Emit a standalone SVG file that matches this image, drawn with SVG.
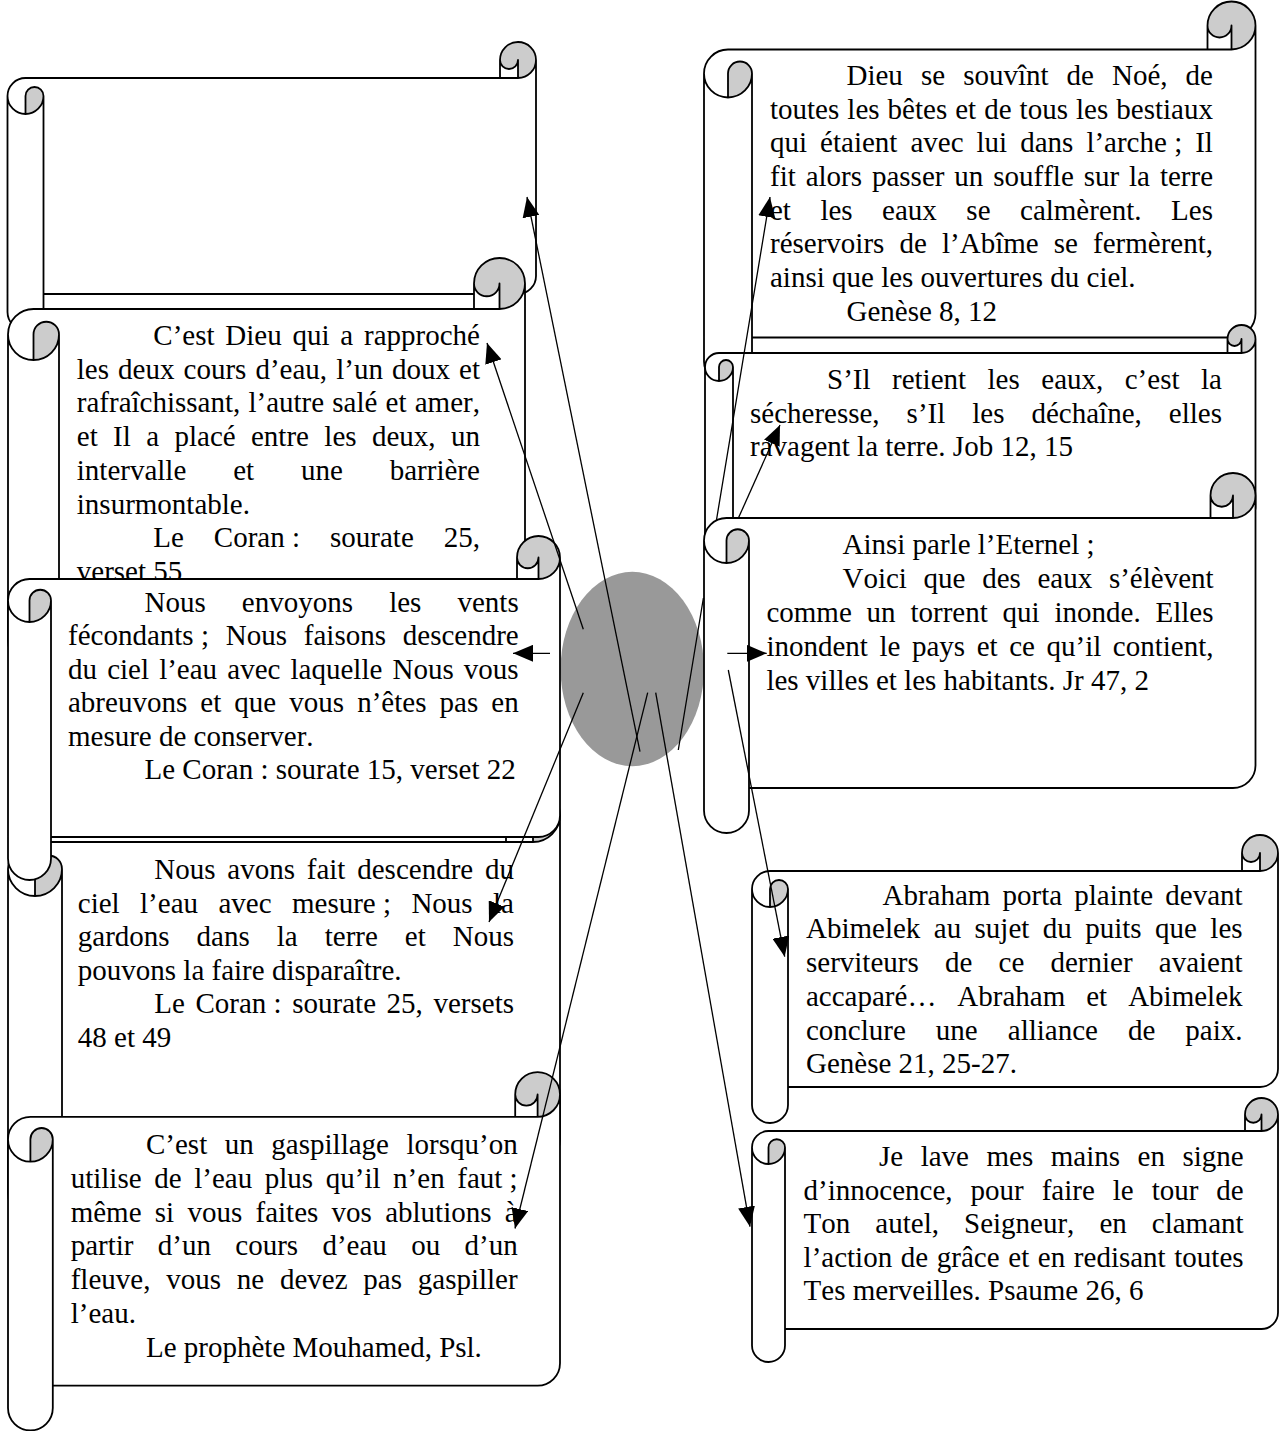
<svg xmlns="http://www.w3.org/2000/svg" width="1279" height="1431" viewBox="0 0 1279 1431">
<defs>
<style>
.bg{fill:#ffffff;stroke:none}
.gr{fill:#cccccc;stroke:none}
.ol{fill:none;stroke:#000;stroke-width:1.8;stroke-linejoin:round}
.t{font-family:"Liberation Serif","Times New Roman",serif;font-size:29px;fill:#000;font-kerning:none;font-variant-ligatures:none}
.cn{fill:none;stroke:#000;stroke-width:1.3;marker-end:url(#ah)}
</style>
<marker id="ah" markerUnits="userSpaceOnUse" markerWidth="20" markerHeight="17" viewBox="0 0 20 17" refX="20" refY="8.5" orient="auto"><path d="M0,0 L20,8.5 L0,17 z" fill="#000"/></marker>
</defs>
<rect x="0" y="0" width="1279" height="1431" fill="#ffffff"/>

<g id="centre">
<ellipse cx="632.3" cy="669" rx="71.7" ry="97.2" fill="#999999"/>
</g>

<g id="scroll-empty">
<path class="bg" d="M536,60 a18,18 0 0 1 -18,18 v-18 a9,9 0 0 1 -18,0 v18 h-474.5 a18,18 0 0 0 -18,18 v216 a18,18 0 0 0 36,0 v-18 h474.5 a18,18 0 0 0 18,-18 z"/>
<path class="gr" d="M25.5,114 a18,18 0 0 0 18,-18 a9,9 0 0 0 -18,0 z"/>
<path class="gr" d="M518,78 a18,18 0 1 0 -18,-18 a9,9 0 0 0 18,0 z"/>
<path class="ol" d="M7.5,96 a18,18 0 0 1 18,-18 h474.5 v-18 a18,18 0 0 1 36,0 v216 a18,18 0 0 1 -18,18 h-474.5 v18 a18,18 0 0 1 -36,0 z M500,78 h18 a18,18 0 0 0 18,-18 M518,78 v-18 a9,9 0 0 1 -18,0 M25.5,114 v-18 a9,9 0 0 1 18,0 a18,18 0 0 1 -36,0 M43.5,96 V294"/>
</g>

<g id="scroll-coran-25-55">
<path class="bg" d="M525,283.5 a25.5,25.5 0 0 1 -25.5,25.5 v-25.5 a12.75,12.75 0 0 1 -25.5,0 v25.5 h-440.5 a25.5,25.5 0 0 0 -25.5,25.5 v306 a25.5,25.5 0 0 0 51,0 v-25.5 h440.5 a25.5,25.5 0 0 0 25.5,-25.5 z"/>
<path class="gr" d="M33.5,360 a25.5,25.5 0 0 0 25.5,-25.5 a12.75,12.75 0 0 0 -25.5,0 z"/>
<path class="gr" d="M499.5,309 a25.5,25.5 0 1 0 -25.5,-25.5 a12.75,12.75 0 0 0 25.5,0 z"/>
<path class="ol" d="M8,334.5 a25.5,25.5 0 0 1 25.5,-25.5 h440.5 v-25.5 a25.5,25.5 0 0 1 51,0 v306 a25.5,25.5 0 0 1 -25.5,25.5 h-440.5 v25.5 a25.5,25.5 0 0 1 -51,0 z M474,309 h25.5 a25.5,25.5 0 0 0 25.5,-25.5 M499.5,309 v-25.5 a12.75,12.75 0 0 1 -25.5,0 M33.5,360 v-25.5 a12.75,12.75 0 0 1 25.5,0 a25.5,25.5 0 0 1 -51,0 M59,334.5 V615"/>
<text class="t" x="153.3" y="345" word-spacing="3.55">C’est Dieu qui a rapproché</text>
<text class="t" x="76.8" y="378.7" word-spacing="1.83">les deux cours d’eau, l’un doux et</text>
<text class="t" x="76.8" y="412.4" word-spacing="0.95">rafraîchissant, l’autre salé et amer,</text>
<text class="t" x="76.8" y="446.1" word-spacing="8.13">et Il a placé entre les deux, un</text>
<text class="t" x="76.8" y="479.8" word-spacing="39.63">intervalle et une barrière</text>
<text class="t" x="76.8" y="513.5">insurmontable.</text>
<text class="t" x="153.3" y="547.2" word-spacing="22.73">Le Coran<tspan word-spacing="0"> :</tspan> sourate 25,</text>
<text class="t" x="76.8" y="580.9">verset 55</text>
</g>

<g id="scroll-coran-25-48">
<path class="bg" d="M560,815 a27,27 0 0 1 -27,27 v-27 a13.5,13.5 0 0 1 -27,0 v27 h-471 a27,27 0 0 0 -27,27 v324 a27,27 0 0 0 54,0 v-27 h471 a27,27 0 0 0 27,-27 z"/>
<path class="gr" d="M35,896 a27,27 0 0 0 27,-27 a13.5,13.5 0 0 0 -27,0 z"/>
<path class="gr" d="M533,842 a27,27 0 1 0 -27,-27 a13.5,13.5 0 0 0 27,0 z"/>
<path class="ol" d="M8,869 a27,27 0 0 1 27,-27 h471 v-27 a27,27 0 0 1 54,0 v324 a27,27 0 0 1 -27,27 h-471 v27 a27,27 0 0 1 -54,0 z M506,842 h27 a27,27 0 0 0 27,-27 M533,842 v-27 a13.5,13.5 0 0 1 -27,0 M35,896 v-27 a13.5,13.5 0 0 1 27,0 a27,27 0 0 1 -54,0 M62,869 V1166"/>
<text class="t" x="154.3" y="879.3" word-spacing="4.55">Nous avons fait descendre du</text>
<text class="t" x="77.8" y="912.8" word-spacing="13.16">ciel l’eau avec mesure<tspan word-spacing="0"> ;</tspan> Nous la</text>
<text class="t" x="77.8" y="946.3" word-spacing="19.76">gardons dans la terre et Nous</text>
<text class="t" x="77.8" y="979.8">pouvons la faire disparaître.</text>
<text class="t" x="154.3" y="1013.3" word-spacing="3.35">Le Coran<tspan word-spacing="0"> :</tspan> sourate 25, versets</text>
<text class="t" x="77.8" y="1046.8">48 et 49</text>
</g>

<g id="scroll-coran-15-22">
<path class="bg" d="M560,557.5 a21.5,21.5 0 0 1 -21.5,21.5 v-21.5 a10.75,10.75 0 0 1 -21.5,0 v21.5 h-487.5 a21.5,21.5 0 0 0 -21.5,21.5 v258 a21.5,21.5 0 0 0 43,0 v-21.5 h487.5 a21.5,21.5 0 0 0 21.5,-21.5 z"/>
<path class="gr" d="M29.5,622 a21.5,21.5 0 0 0 21.5,-21.5 a10.75,10.75 0 0 0 -21.5,0 z"/>
<path class="gr" d="M538.5,579 a21.5,21.5 0 1 0 -21.5,-21.5 a10.75,10.75 0 0 0 21.5,0 z"/>
<path class="ol" d="M8,600.5 a21.5,21.5 0 0 1 21.5,-21.5 h487.5 v-21.5 a21.5,21.5 0 0 1 43,0 v258 a21.5,21.5 0 0 1 -21.5,21.5 h-487.5 v21.5 a21.5,21.5 0 0 1 -43,0 z M517,579 h21.5 a21.5,21.5 0 0 0 21.5,-21.5 M538.5,579 v-21.5 a10.75,10.75 0 0 1 -21.5,0 M29.5,622 v-21.5 a10.75,10.75 0 0 1 21.5,0 a21.5,21.5 0 0 1 -43,0 M51,600.5 V837"/>
<text class="t" x="144.5" y="611.7" word-spacing="28.87">Nous envoyons les vents</text>
<text class="t" x="68" y="645.2" word-spacing="9.57">fécondants<tspan word-spacing="0"> ;</tspan> Nous faisons descendre</text>
<text class="t" x="68" y="678.7" word-spacing="2.9">du ciel l’eau avec laquelle Nous vous</text>
<text class="t" x="68" y="712.2" word-spacing="5.85">abreuvons et que vous n’êtes pas en</text>
<text class="t" x="68" y="745.7">mesure de conserver.</text>
<text class="t" x="144.5" y="779.2">Le Coran : sourate 15, verset 22</text>
</g>

<g id="scroll-prophete">
<path class="bg" d="M560,1094.4 a22.4,22.4 0 0 1 -22.4,22.4 v-22.4 a11.2,11.2 0 0 1 -22.4,0 v22.4 h-484.8 a22.4,22.4 0 0 0 -22.4,22.4 v268.8 a22.4,22.4 0 0 0 44.8,0 v-22.4 h484.8 a22.4,22.4 0 0 0 22.4,-22.4 z"/>
<path class="gr" d="M30.4,1161.6 a22.4,22.4 0 0 0 22.4,-22.4 a11.2,11.2 0 0 0 -22.4,0 z"/>
<path class="gr" d="M537.6,1116.8 a22.4,22.4 0 1 0 -22.4,-22.4 a11.2,11.2 0 0 0 22.4,0 z"/>
<path class="ol" d="M8,1139.2 a22.4,22.4 0 0 1 22.4,-22.4 h484.8 v-22.4 a22.4,22.4 0 0 1 44.8,0 v268.8 a22.4,22.4 0 0 1 -22.4,22.4 h-484.8 v22.4 a22.4,22.4 0 0 1 -44.8,0 z M515.2,1116.8 h22.4 a22.4,22.4 0 0 0 22.4,-22.4 M537.6,1116.8 v-22.4 a11.2,11.2 0 0 1 -22.4,0 M30.4,1161.6 v-22.4 a11.2,11.2 0 0 1 22.4,0 a22.4,22.4 0 0 1 -44.8,0 M52.8,1139.2 V1385.6"/>
<text class="t" x="146" y="1154" word-spacing="10.33">C’est un gaspillage lorsqu’on</text>
<text class="t" x="70.7" y="1187.8" word-spacing="5.37">utilise de l’eau plus qu’il n’en faut<tspan word-spacing="0"> ;</tspan></text>
<text class="t" x="70.7" y="1221.6" word-spacing="6.03">même si vous faites vos ablutions à</text>
<text class="t" x="70.7" y="1255.4" word-spacing="17.08">partir d’un cours d’eau ou d’un</text>
<text class="t" x="70.7" y="1289.2" word-spacing="8.54">fleuve, vous ne devez pas gaspiller</text>
<text class="t" x="70.7" y="1323">l’eau.</text>
<text class="t" x="146" y="1356.8">Le prophète Mouhamed, Psl.</text>
</g>

<g id="scroll-genese-8">
<path class="bg" d="M1255.5,25.5 a24,24 0 0 1 -24,24 v-24 a12,12 0 0 1 -24,0 v24 h-479.5 a24,24 0 0 0 -24,24 v288 a24,24 0 0 0 48,0 v-24 h479.5 a24,24 0 0 0 24,-24 z"/>
<path class="gr" d="M728,97.5 a24,24 0 0 0 24,-24 a12,12 0 0 0 -24,0 z"/>
<path class="gr" d="M1231.5,49.5 a24,24 0 1 0 -24,-24 a12,12 0 0 0 24,0 z"/>
<path class="ol" d="M704,73.5 a24,24 0 0 1 24,-24 h479.5 v-24 a24,24 0 0 1 48,0 v288 a24,24 0 0 1 -24,24 h-479.5 v24 a24,24 0 0 1 -48,0 z M1207.5,49.5 h24 a24,24 0 0 0 24,-24 M1231.5,49.5 v-24 a12,12 0 0 1 -24,0 M728,97.5 v-24 a12,12 0 0 1 24,0 a24,24 0 0 1 -48,0 M752,73.5 V337.5"/>
<text class="t" x="846.5" y="85" word-spacing="10.8">Dieu se souvînt de Noé, de</text>
<text class="t" x="770" y="118.65" word-spacing="0.8">toutes les bêtes et de tous les bestiaux</text>
<text class="t" x="770" y="152.3" word-spacing="5.78">qui étaient avec lui dans l’arche<tspan word-spacing="0"> ;</tspan> Il</text>
<text class="t" x="770" y="185.95" word-spacing="2.66">fit alors passer un souffle sur la terre</text>
<text class="t" x="770" y="219.6" word-spacing="22.24">et les eaux se calmèrent. Les</text>
<text class="t" x="770" y="253.25" word-spacing="7.88">réservoirs de l’Abîme se fermèrent,</text>
<text class="t" x="770" y="286.9">ainsi que les ouvertures du ciel.</text>
<text class="t" x="846.5" y="320.55">Genèse 8, 12</text>
</g>

<g id="scroll-job">
<path class="bg" d="M1255.5,339 a14,14 0 0 1 -14,14 v-14 a7,7 0 0 1 -14,0 v14 h-508.5 a14,14 0 0 0 -14,14 v168 a14,14 0 0 0 28,0 v-14 h508.5 a14,14 0 0 0 14,-14 z"/>
<path class="gr" d="M719,381 a14,14 0 0 0 14,-14 a7,7 0 0 0 -14,0 z"/>
<path class="gr" d="M1241.5,353 a14,14 0 1 0 -14,-14 a7,7 0 0 0 14,0 z"/>
<path class="ol" d="M705,367 a14,14 0 0 1 14,-14 h508.5 v-14 a14,14 0 0 1 28,0 v168 a14,14 0 0 1 -14,14 h-508.5 v14 a14,14 0 0 1 -28,0 z M1227.5,353 h14 a14,14 0 0 0 14,-14 M1241.5,353 v-14 a7,7 0 0 1 -14,0 M719,381 v-14 a7,7 0 0 1 14,0 a14,14 0 0 1 -28,0 M733,367 V521"/>
<text class="t" x="827" y="389" word-spacing="14.24">S’Il retient les eaux, c’est la</text>
<text class="t" x="750" y="422.5" word-spacing="19.75">sécheresse, s’Il les déchaîne, elles</text>
<text class="t" x="750" y="456">ravagent la terre. Job 12, 15</text>
</g>

<g id="scroll-jeremie">
<path class="bg" d="M1255.5,495.5 a22.5,22.5 0 0 1 -22.5,22.5 v-22.5 a11.25,11.25 0 0 1 -22.5,0 v22.5 h-484 a22.5,22.5 0 0 0 -22.5,22.5 v270 a22.5,22.5 0 0 0 45,0 v-22.5 h484 a22.5,22.5 0 0 0 22.5,-22.5 z"/>
<path class="gr" d="M726.5,563 a22.5,22.5 0 0 0 22.5,-22.5 a11.25,11.25 0 0 0 -22.5,0 z"/>
<path class="gr" d="M1233,518 a22.5,22.5 0 1 0 -22.5,-22.5 a11.25,11.25 0 0 0 22.5,0 z"/>
<path class="ol" d="M704,540.5 a22.5,22.5 0 0 1 22.5,-22.5 h484 v-22.5 a22.5,22.5 0 0 1 45,0 v270 a22.5,22.5 0 0 1 -22.5,22.5 h-484 v22.5 a22.5,22.5 0 0 1 -45,0 z M1210.5,518 h22.5 a22.5,22.5 0 0 0 22.5,-22.5 M1233,518 v-22.5 a11.25,11.25 0 0 1 -22.5,0 M726.5,563 v-22.5 a11.25,11.25 0 0 1 22.5,0 a22.5,22.5 0 0 1 -45,0 M749,540.5 V788"/>
<text class="t" x="842.5" y="554">Ainsi parle l’Eternel ;</text>
<text class="t" x="842.5" y="587.9" word-spacing="9.43">Voici que des eaux s’élèvent</text>
<text class="t" x="766.4" y="621.8" word-spacing="7.6">comme un torrent qui inonde. Elles</text>
<text class="t" x="766.4" y="655.7" word-spacing="4.32">inondent le pays et ce qu’il contient,</text>
<text class="t" x="766.4" y="689.6">les villes et les habitants. Jr 47, 2</text>
</g>

<g id="scroll-genese-21">
<path class="bg" d="M1278,853 a18,18 0 0 1 -18,18 v-18 a9,9 0 0 1 -18,0 v18 h-472 a18,18 0 0 0 -18,18 v216 a18,18 0 0 0 36,0 v-18 h472 a18,18 0 0 0 18,-18 z"/>
<path class="gr" d="M770,907 a18,18 0 0 0 18,-18 a9,9 0 0 0 -18,0 z"/>
<path class="gr" d="M1260,871 a18,18 0 1 0 -18,-18 a9,9 0 0 0 18,0 z"/>
<path class="ol" d="M752,889 a18,18 0 0 1 18,-18 h472 v-18 a18,18 0 0 1 36,0 v216 a18,18 0 0 1 -18,18 h-472 v18 a18,18 0 0 1 -36,0 z M1242,871 h18 a18,18 0 0 0 18,-18 M1260,871 v-18 a9,9 0 0 1 -18,0 M770,907 v-18 a9,9 0 0 1 18,0 a18,18 0 0 1 -36,0 M788,889 V1087"/>
<text class="t" x="882.5" y="904.5" word-spacing="4.87">Abraham porta plainte devant</text>
<text class="t" x="806" y="938.25" word-spacing="6.18">Abimelek au sujet du puits que les</text>
<text class="t" x="806" y="972" word-spacing="18.95">serviteurs de ce dernier avaient</text>
<text class="t" x="806" y="1005.75" word-spacing="13.73">accaparé… Abraham et Abimelek</text>
<text class="t" x="806" y="1039.5" word-spacing="22.78">conclure une alliance de paix.</text>
<text class="t" x="806" y="1073.25">Genèse 21, 25-27.</text>
</g>

<g id="scroll-psaume">
<path class="bg" d="M1278,1114.5 a16.5,16.5 0 0 1 -16.5,16.5 v-16.5 a8.25,8.25 0 0 1 -16.5,0 v16.5 h-476.5 a16.5,16.5 0 0 0 -16.5,16.5 v198 a16.5,16.5 0 0 0 33,0 v-16.5 h476.5 a16.5,16.5 0 0 0 16.5,-16.5 z"/>
<path class="gr" d="M768.5,1164 a16.5,16.5 0 0 0 16.5,-16.5 a8.25,8.25 0 0 0 -16.5,0 z"/>
<path class="gr" d="M1261.5,1131 a16.5,16.5 0 1 0 -16.5,-16.5 a8.25,8.25 0 0 0 16.5,0 z"/>
<path class="ol" d="M752,1147.5 a16.5,16.5 0 0 1 16.5,-16.5 h476.5 v-16.5 a16.5,16.5 0 0 1 33,0 v198 a16.5,16.5 0 0 1 -16.5,16.5 h-476.5 v16.5 a16.5,16.5 0 0 1 -33,0 z M1245,1131 h16.5 a16.5,16.5 0 0 0 16.5,-16.5 M1261.5,1131 v-16.5 a8.25,8.25 0 0 1 -16.5,0 M768.5,1164 v-16.5 a8.25,8.25 0 0 1 16.5,0 a16.5,16.5 0 0 1 -33,0 M785,1147.5 V1329"/>
<text class="t" x="879" y="1166" word-spacing="10.28">Je lave mes mains en signe</text>
<text class="t" x="803.6" y="1199.5" word-spacing="10.72">d’innocence, pour faire le tour de</text>
<text class="t" x="803.6" y="1233" word-spacing="17.8">Ton autel, Seigneur, en clamant</text>
<text class="t" x="803.6" y="1266.5" word-spacing="1.4">l’action de grâce et en redisant toutes</text>
<text class="t" x="803.6" y="1300">Tes merveilles. Psaume 26, 6</text>
</g>

<g id="connectors">
<path class="cn" d="M640,751.7 L527,197"/>
<path class="cn" d="M583.3,629.3 L487,343"/>
<path class="cn" d="M550,653.3 L513,653.3"/>
<path class="cn" d="M583.3,692.7 L489,922"/>
<path class="cn" d="M647.7,692.7 L515,1228.5"/>
<path class="cn" d="M678.3,750 L703.4,598 M716.4,520.5 L770,197"/>
<path class="cn" d="M738.3,518.3 L780,425"/>
<path class="cn" d="M727.3,653.3 L766.7,653.3"/>
<path class="cn" d="M728.3,670 L784.7,956.7"/>
<path class="cn" d="M655.7,692.7 L750,1226.7"/>
</g>
</svg>
